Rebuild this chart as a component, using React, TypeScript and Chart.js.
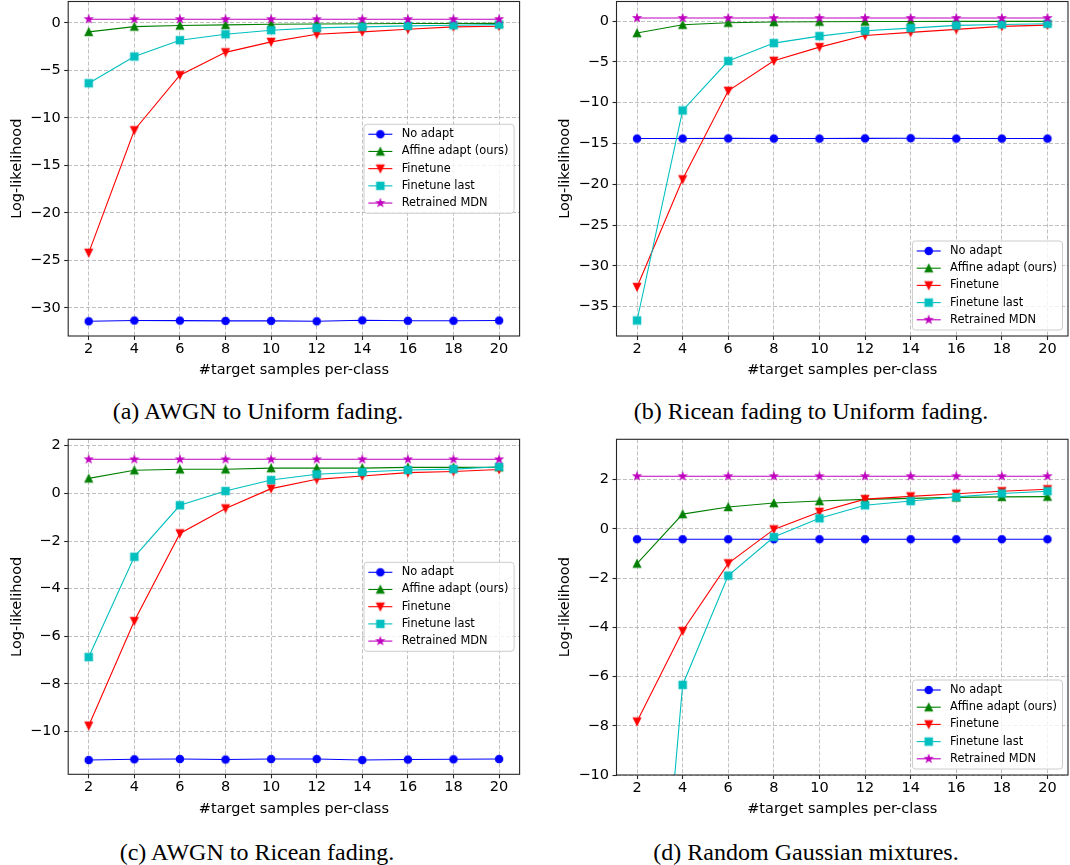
import React, { useEffect, useRef } from 'react';
import { Chart, registerables } from 'chart.js';

Chart.register(...registerables);

// ---------- data ----------
const xValues = [2, 4, 6, 8, 10, 12, 14, 16, 18, 20];
const xTicks = [2, 4, 6, 8, 10, 12, 14, 16, 18, 20];
const seriesNames = ['No adapt', 'Affine adapt (ours)', 'Finetune', 'Finetune last', 'Retrained MDN'];
const seriesColors = ['#0000ff', '#008000', '#ff0000', '#00bfbf', '#bf00bf'];
const seriesMarkers = ['circle', 'triangleUp', 'triangleDown', 'square', 'star'];

// (a) AWGN to Uniform fading
const aNoAdapt = [-31.4, -31.32, -31.33, -31.36, -31.36, -31.4, -31.3, -31.35, -31.35, -31.32];
const aAffine = [-0.95, -0.39, -0.28, -0.21, -0.15, -0.11, -0.09, -0.07, -0.06, -0.05];
const aFinetune = [-24.2, -11.3, -5.5, -3.1, -2.0, -1.2, -0.95, -0.67, -0.42, -0.35];
const aFinetuneLast = [-6.35, -3.54, -1.82, -1.19, -0.77, -0.53, -0.42, -0.32, -0.25, -0.18];
const aRetrained = [0.39, 0.39, 0.39, 0.39, 0.39, 0.39, 0.39, 0.39, 0.39, 0.39];
const aYTicks = [-30, -25, -20, -15, -10, -5, 0];

// (b) Ricean fading to Uniform fading
const bNoAdapt = [-14.4, -14.4, -14.38, -14.4, -14.4, -14.38, -14.36, -14.4, -14.4, -14.4];
const bAffine = [-1.47, -0.45, -0.2, -0.12, -0.08, -0.06, -0.05, -0.04, -0.03, -0.03];
const bFinetune = [-32.6, -19.4, -8.55, -4.87, -3.19, -1.76, -1.39, -1.02, -0.65, -0.49];
const bFinetuneLast = [-36.7, -10.96, -4.9, -2.7, -1.84, -1.19, -0.86, -0.53, -0.41, -0.33];
const bRetrained = [0.37, 0.37, 0.37, 0.37, 0.37, 0.37, 0.37, 0.37, 0.37, 0.37];
const bYTicks = [-35, -30, -25, -20, -15, -10, -5, 0];

// (c) AWGN to Ricean fading
const cNoAdapt = [-11.19, -11.16, -11.15, -11.17, -11.15, -11.15, -11.19, -11.17, -11.16, -11.15];
const cAffine = [0.63, 0.97, 1.01, 1.01, 1.06, 1.06, 1.06, 1.09, 1.09, 1.1];
const cFinetune = [-9.75, -5.36, -1.68, -0.63, 0.2, 0.59, 0.73, 0.87, 0.92, 1.0];
const cFinetuneLast = [-6.87, -2.66, -0.5, 0.1, 0.56, 0.8, 0.9, 0.98, 1.02, 1.12];
const cRetrained = [1.43, 1.43, 1.43, 1.43, 1.43, 1.43, 1.43, 1.43, 1.43, 1.43];
const cYTicks = [-10, -8, -6, -4, -2, 0, 2];

// (d) Random Gaussian mixtures
const dNoAdapt = [-0.42, -0.42, -0.42, -0.42, -0.42, -0.42, -0.42, -0.42, -0.42, -0.42];
const dAffine = [-1.41, 0.6, 0.89, 1.05, 1.13, 1.2, 1.24, 1.28, 1.3, 1.31];
const dFinetune = [-7.83, -4.15, -1.4, -0.02, 0.69, 1.21, 1.32, 1.43, 1.53, 1.61];
const dFinetuneLast = [-27.6, -6.34, -1.9, -0.33, 0.43, 0.96, 1.13, 1.3, 1.44, 1.53];
const dRetrained = [2.14, 2.14, 2.14, 2.14, 2.14, 2.14, 2.14, 2.14, 2.14, 2.14];
const dYTicks = [-10, -8, -6, -4, -2, 0, 2];

const xLabel = '#target samples per-class';
const yLabel = 'Log-likelihood';

// ---------- layout / style ----------
const FONT = '"DejaVu Sans", sans-serif';
const TICK_SIZE = 14.5;
const LEGEND_SIZE = 11.4;
const MARKER_SIZE = 7.4;
const MARKER_EDGE = 1.1;
const LINE_W = 1.1;

type Panel = {
  id: string;
  canvasLeft: number; canvasTop: number; W: number; H: number;
  L: number; R: number; T: number; B: number;
  yMin: number; yMax: number; yTicks: number[];
  series: number[][];
  legendPos: 'center right' | 'lower right';
  yLabelX: number;
  caption: string; capX: number; capY: number;
};

const panels: Panel[] = [
  {
    id: 'a', canvasLeft: 0, canvasTop: 0, W: 535, H: 384,
    L: 68.2, R: 519.6, T: 1.5, B: 336,
    yMin: -32.95, yMax: 2.25, yTicks: aYTicks,
    series: [aNoAdapt, aAffine, aFinetune, aFinetuneLast, aRetrained],
    legendPos: 'center right', yLabelX: 17.2,
    caption: '(a) AWGN to Uniform fading.', capX: 258, capY: 410.6,
  },
  {
    id: 'b', canvasLeft: 535, canvasTop: 0, W: 535, H: 384,
    L: 616.5, R: 1068, T: 1.5, B: 336,
    yMin: -38.6, yMax: 2.4, yTicks: bYTicks,
    series: [bNoAdapt, bAffine, bFinetune, bFinetuneLast, bRetrained],
    legendPos: 'lower right', yLabelX: 565,
    caption: '(b) Ricean fading to Uniform fading.', capX: 811, capY: 410.6,
  },
  {
    id: 'c', canvasLeft: 0, canvasTop: 430, W: 535, H: 394,
    L: 68.2, R: 519.6, T: 439.3, B: 774.3,
    yMin: -11.79, yMax: 2.27, yTicks: cYTicks,
    series: [cNoAdapt, cAffine, cFinetune, cFinetuneLast, cRetrained],
    legendPos: 'center right', yLabelX: 17.2,
    caption: '(c) AWGN to Ricean fading.', capX: 257, capY: 852,
  },
  {
    id: 'd', canvasLeft: 535, canvasTop: 430, W: 535, H: 394,
    L: 616.5, R: 1068, T: 439.3, B: 775,
    yMin: -10, yMax: 3.64, yTicks: dYTicks,
    series: [dNoAdapt, dAffine, dFinetune, dFinetuneLast, dRetrained],
    legendPos: 'lower right', yLabelX: 565,
    caption: '(d) Random Gaussian mixtures.', capX: 806, capY: 852,
  },
];

// ---------- markers ----------
function makeMarker(shape: string, color: string): HTMLCanvasElement {
  const c = document.createElement('canvas');
  c.width = 14; c.height = 14;
  const ctx = c.getContext('2d')!;
  const cx = 7, cy = 7, s = MARKER_SIZE, h = s / 2;
  ctx.fillStyle = color; ctx.strokeStyle = color; ctx.lineWidth = MARKER_EDGE;
  ctx.lineJoin = 'miter';
  ctx.beginPath();
  if (shape === 'circle') {
    ctx.arc(cx, cy, h, 0, Math.PI * 2);
  } else if (shape === 'triangleUp') {
    ctx.moveTo(cx, cy - h); ctx.lineTo(cx - h, cy + h); ctx.lineTo(cx + h, cy + h); ctx.closePath();
  } else if (shape === 'triangleDown') {
    ctx.moveTo(cx, cy + h); ctx.lineTo(cx - h, cy - h); ctx.lineTo(cx + h, cy - h); ctx.closePath();
  } else if (shape === 'square') {
    ctx.rect(cx - h, cy - h, s, s);
  } else if (shape === 'star') {
    const outer = h, inner = h * 0.381966;
    for (let k = 0; k < 10; k++) {
      const r = k % 2 === 0 ? outer : inner;
      const a = -Math.PI / 2 + (k * Math.PI) / 5;
      const px = cx + r * Math.cos(a), py = cy + r * Math.sin(a);
      if (k === 0) ctx.moveTo(px, py); else ctx.lineTo(px, py);
    }
    ctx.closePath();
  }
  ctx.fill(); ctx.stroke();
  return c;
}

const fmt = (v: number) => (v < 0 ? '\u2212' + Math.abs(v) : String(v));

function PanelChart({ p }: { p: Panel }) {
  const ref = useRef<HTMLCanvasElement>(null);
  useEffect(() => {
    const markers = seriesMarkers.map((m, i) => makeMarker(m, seriesColors[i]));
    const yWidth = p.L - p.canvasLeft;
    const padRight = p.canvasLeft + p.W - p.R;
    const padTop = p.T - p.canvasTop;
    const xHeight = p.canvasTop + p.H - p.B;
    const xTitlePad = xHeight - (TICK_SIZE * 1.2) / 2 - 34.5;
    const yTitlePad = p.yLabelX - p.canvasLeft - (TICK_SIZE * 1.2) / 2;

    const framePlugin = {
      id: 'frame',
      afterDatasetsDraw(chart: any) {
        const { ctx, chartArea: ca } = chart;
        ctx.save();
        ctx.strokeStyle = '#262626';
        ctx.lineWidth = 1.1;
        ctx.strokeRect(ca.left, ca.top, ca.right - ca.left, ca.bottom - ca.top);
        ctx.restore();
      },
    };

    const legendPlugin = {
      id: 'mplLegend',
      afterDraw(chart: any) {
        const { ctx, chartArea: ca } = chart;
        ctx.save();
        ctx.font = `${LEGEND_SIZE}px ${FONT}`;
        const textW = Math.max(...seriesNames.map((n) => ctx.measureText(n).width));
        const boxW = 37.6 + textW + 5.6;
        const rowH = 17.2;
        const boxH = 89;
        const right = ca.right - 5.5;
        const left = right - boxW;
        const top = p.legendPos === 'lower right' ? ca.bottom - 6 - boxH : (ca.top + ca.bottom) / 2 - boxH / 2;
        ctx.beginPath();
        (ctx as any).roundRect(left, top, boxW, boxH, 3);
        ctx.fillStyle = 'rgba(255,255,255,0.8)';
        ctx.fill();
        ctx.strokeStyle = '#cccccc';
        ctx.lineWidth = 1;
        ctx.stroke();
        seriesNames.forEach((name, i) => {
          const y = top + 10 + i * rowH;
          ctx.strokeStyle = seriesColors[i];
          ctx.lineWidth = LINE_W;
          ctx.beginPath();
          ctx.moveTo(left + 4.3, y);
          ctx.lineTo(left + 28.3, y);
          ctx.stroke();
          const img = markers[i];
          ctx.drawImage(img, left + 16.3 - img.width / 2, y - img.height / 2);
          ctx.fillStyle = '#000';
          ctx.textBaseline = 'middle';
          ctx.textAlign = 'left';
          ctx.fillText(name, left + 37.6, y);
        });
        ctx.restore();
      },
    };

    const datasets = p.series.map((vals, i) => ({
      label: seriesNames[i],
      data: xValues.map((x, j) => ({ x, y: vals[j] })),
      borderColor: seriesColors[i],
      backgroundColor: seriesColors[i],
      borderWidth: LINE_W,
      pointStyle: markers[i],
      pointRadius: 4,
      pointHoverRadius: 4,
      order: p.series.length - i,
      tension: 0,
      fill: false,
    }));

    const tickFont = { family: FONT, size: TICK_SIZE };
    const chart = new Chart(ref.current!, {
      type: 'line',
      data: { datasets } as any,
      options: {
        animation: false,
        responsive: false,
        devicePixelRatio: 1,
        events: [],
        layout: { padding: { left: 0, right: padRight, top: padTop, bottom: 0 }, autoPadding: false },
        plugins: { legend: { display: false }, tooltip: { enabled: false } },
        scales: {
          x: {
            type: 'linear',
            min: 1.1,
            max: 20.9,
            afterBuildTicks: (s: any) => { s.ticks = xTicks.map((v) => ({ value: v })); },
            afterFit: (s: any) => { s.height = xHeight; s.paddingLeft = 0; s.paddingRight = 0; },
            ticks: { font: tickFont, color: '#000', padding: 0.5, maxRotation: 0, autoSkip: false, callback: (v: any) => fmt(Number(v)) },
            grid: { color: '#b0b0b0', lineWidth: 0.8, tickColor: '#262626', tickWidth: 1.1, tickLength: 4, tickBorderDash: [] },
            border: { display: false, dash: [4, 2] },
            title: { display: true, text: xLabel, font: tickFont, color: '#000', padding: { top: 0, bottom: xTitlePad } },
          },
          y: {
            type: 'linear',
            min: p.yMin,
            max: p.yMax,
            afterBuildTicks: (s: any) => { s.ticks = p.yTicks.map((v) => ({ value: v })); },
            afterFit: (s: any) => { s.width = yWidth; s.paddingTop = 0; s.paddingBottom = 0; },
            ticks: { font: tickFont, color: '#000', padding: 3.5, autoSkip: false, callback: (v: any) => fmt(Number(v)) },
            grid: { color: '#b0b0b0', lineWidth: 0.8, tickColor: '#262626', tickWidth: 1.1, tickLength: 4, tickBorderDash: [] },
            border: { display: false, dash: [4, 2] },
            title: { display: true, text: yLabel, font: tickFont, color: '#000', padding: { top: yTitlePad, bottom: 0 } },
          },
        },
      } as any,
      plugins: [framePlugin, legendPlugin],
    });
    return () => chart.destroy();
  }, [p]);

  return (
    <>
      <canvas
        ref={ref}
        width={p.W}
        height={p.H}
        style={{ position: 'absolute', left: p.canvasLeft, top: p.canvasTop, width: p.W, height: p.H }}
      />
      <div
        style={{
          position: 'absolute',
          left: p.capX - 300,
          width: 600,
          top: p.capY - 13,
          height: 26,
          lineHeight: '26px',
          textAlign: 'center',
          whiteSpace: 'nowrap',
          fontFamily: '"Liberation Serif", "Times New Roman", serif',
          fontSize: 24,
          color: '#000',
        }}
      >
        {p.caption}
      </div>
    </>
  );
}

export default function App() {
  return (
    <div style={{ position: 'absolute', left: 0, top: 0, width: 1070, height: 865, background: '#fff', overflow: 'hidden' }}>
      {panels.map((p) => (
        <PanelChart key={p.id} p={p} />
      ))}
    </div>
  );
}
